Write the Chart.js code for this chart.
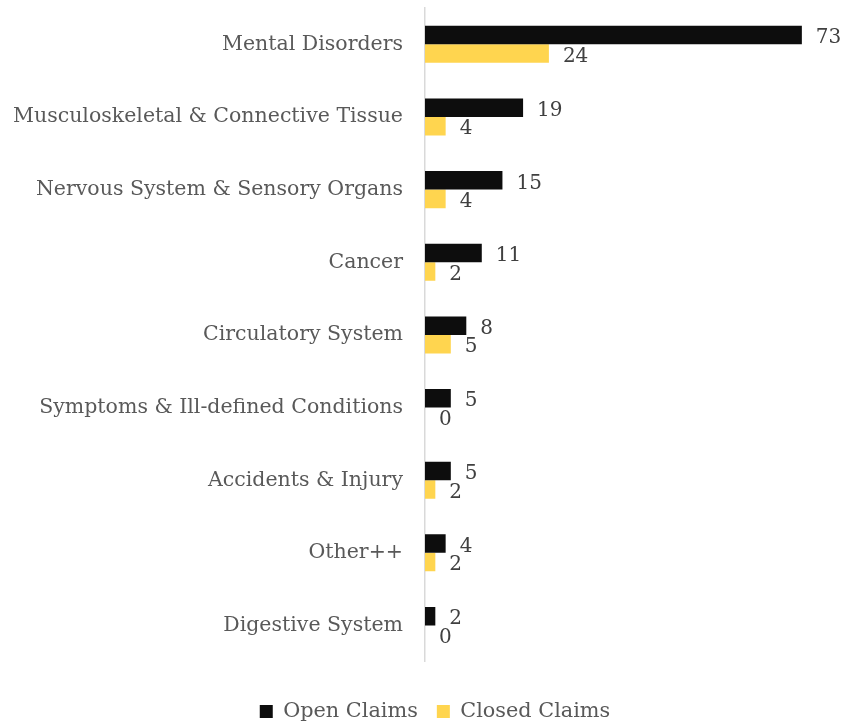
<!DOCTYPE html>
<html>
<head>
<meta charset="utf-8">
<script src="https://cdn.jsdelivr.net/npm/chart.js@4/dist/chart.umd.min.js"></script>
<style>
  html, body { margin: 0; padding: 0; background: #fff; }
  #wrap { width: 846px; height: 725px; }
</style>
</head>
<body>
<div id="wrap"><canvas id="claims"></canvas></div>
<script>
// Claims by diagnosis category
const categories = [
  'Mental Disorders',
  'Musculoskeletal & Connective Tissue',
  'Nervous System & Sensory Organs',
  'Cancer',
  'Circulatory System',
  'Symptoms & Ill-defined Conditions',
  'Accidents & Injury',
  'Other++',
  'Digestive System'
];
const openClaims = [73, 19, 15, 11, 8, 5, 5, 4, 2];
const closedClaims = [24, 4, 4, 2, 5, 0, 2, 2, 0];

const FONT = 'DejaVu Serif';
const COLORS = {
  open: '#0d0d0d',
  closed: '#ffd54f',
  axis: '#d9d9d9',
  label: '#595959',
  value: '#404040'
};

// value labels at the end of each bar
const barValues = {
  id: 'barValues',
  afterDatasetsDraw(chart) {
    const ctx = chart.ctx;
    ctx.save();
    ctx.font = '20px "' + FONT + '"';
    ctx.fillStyle = COLORS.value;
    ctx.textAlign = 'left';
    ctx.textBaseline = 'middle';
    chart.data.datasets.forEach((ds, i) => {
      const meta = chart.getDatasetMeta(i);
      meta.data.forEach((bar, j) => {
        ctx.fillText(String(ds.data[j]), bar.x + 14, bar.y + 3);
      });
    });
    ctx.restore();
  }
};

// nudge the legend row a little to the right, under the bars
const legendShift = {
  id: 'legendShift',
  afterLayout(chart) {
    if (!chart.legend) return;
    chart.legend.left += 16;
    chart.legend.right += 16;
  }
};

new Chart(document.getElementById('claims'), {
  type: 'bar',
  data: {
    labels: categories,
    datasets: [
      { label: 'Open Claims', data: openClaims, backgroundColor: COLORS.open },
      { label: 'Closed Claims', data: closedClaims, backgroundColor: COLORS.closed }
    ]
  },
  options: {
    indexAxis: 'y',
    responsive: true,
    maintainAspectRatio: false,
    animation: false,
    categoryPercentage: 0.51,
    barPercentage: 1.0,
    layout: { padding: { top: 8, right: 8, bottom: -7, left: 0 } },
    plugins: {
      legend: {
        position: 'bottom',
        // blank title only pushes the legend row down
        title: { display: true, text: ' ', padding: 0, font: { size: 17, lineHeight: 1.2 } },
        labels: {
          boxWidth: 13,
          boxHeight: 13,
          padding: 19,
          color: COLORS.label,
          font: { family: FONT, size: 20.8 }
        }
      },
      tooltip: { enabled: false }
    },
    scales: {
      x: {
        display: false,
        min: 0,
        max: 80
      },
      y: {
        grid: { display: false },
        border: { color: COLORS.axis, width: 1.5 },
        ticks: {
          color: COLORS.label,
          padding: 14,
          font: { family: FONT, size: 20.5 }
        },
        afterFit(scale) {
          scale.width = 425;
          scale.paddingTop = 0;
          scale.paddingBottom = 0;
        }
      }
    }
  },
  plugins: [barValues, legendShift]
});
</script>
</body>
</html>
